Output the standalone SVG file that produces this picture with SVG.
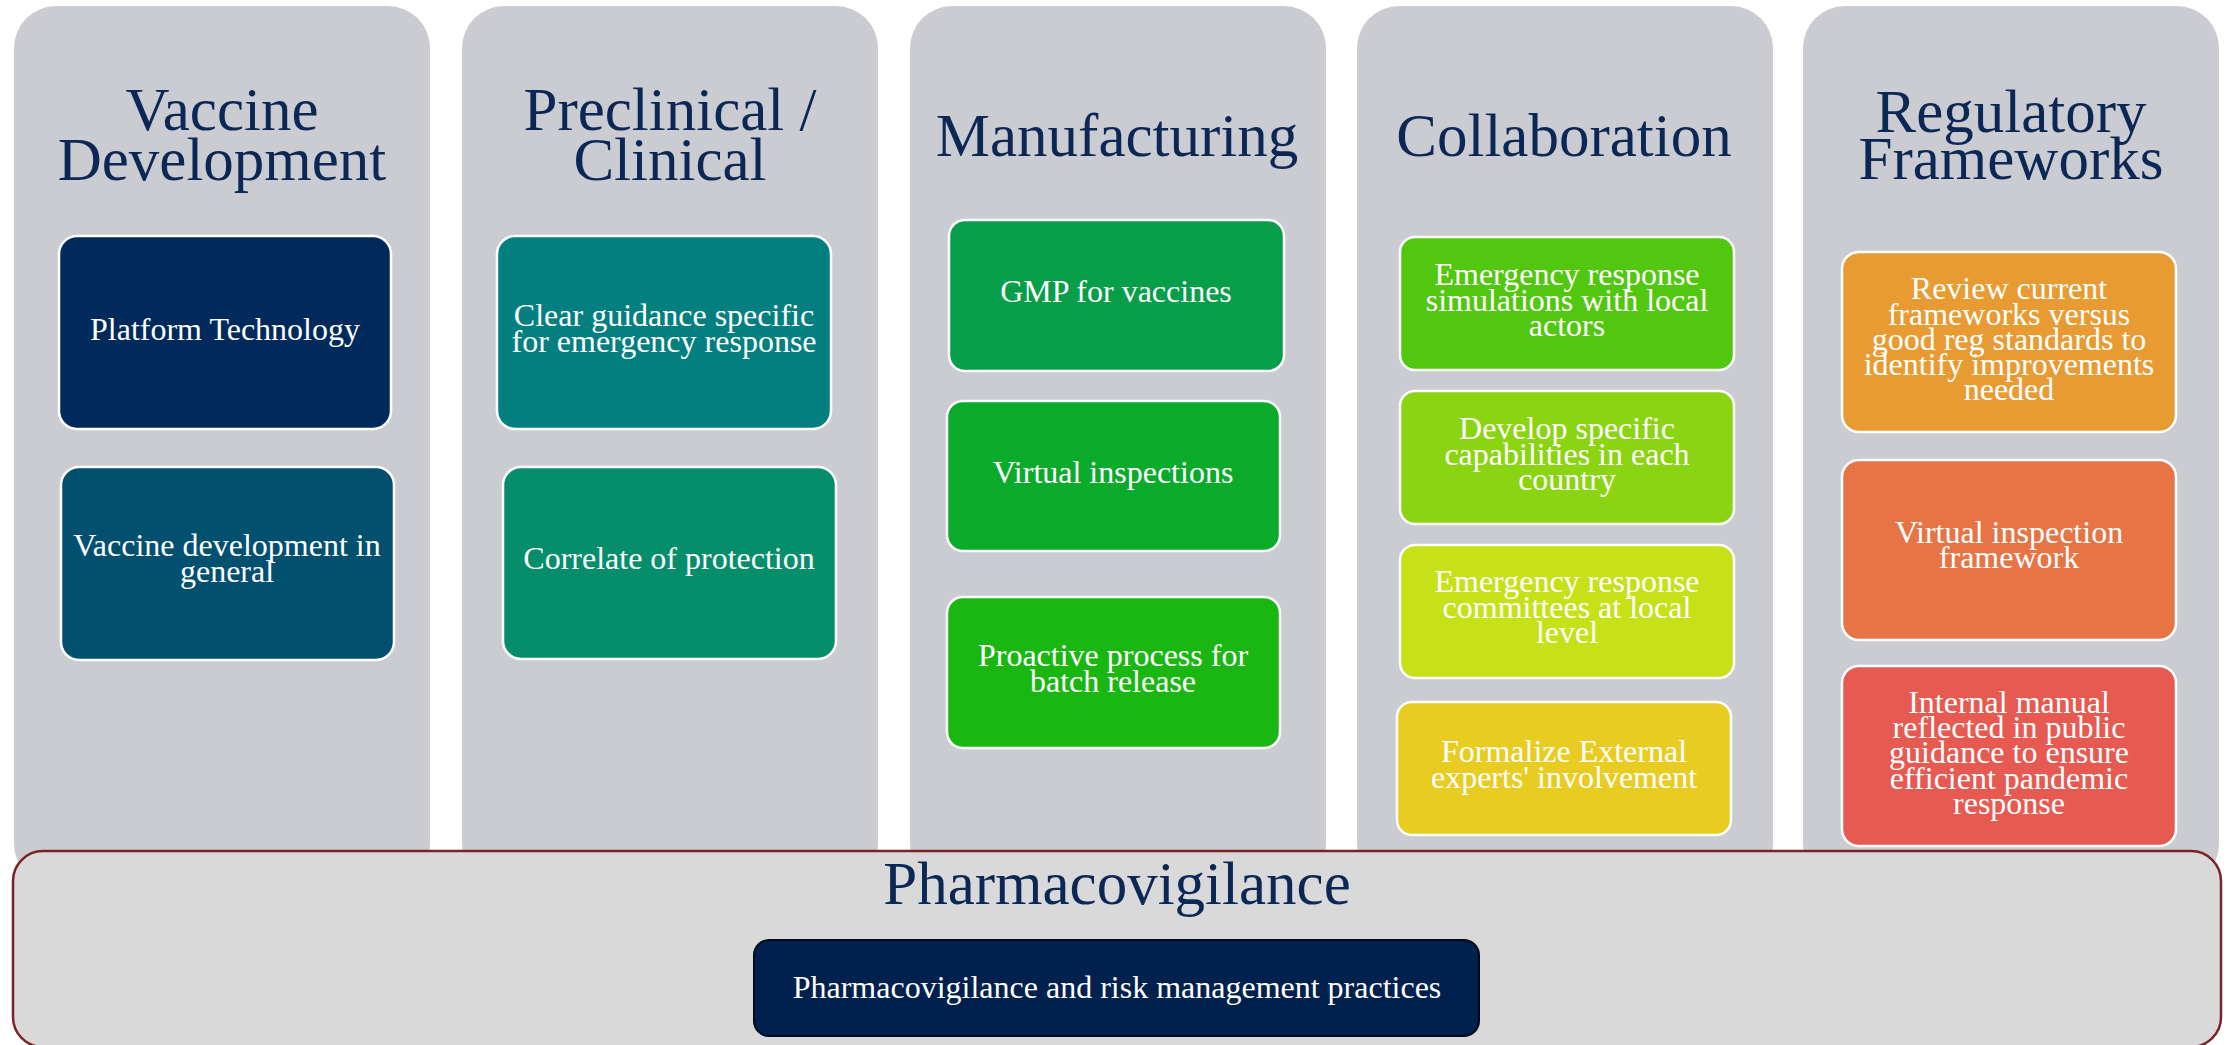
<svg xmlns="http://www.w3.org/2000/svg" width="2233" height="1045" viewBox="0 0 2233 1045">
<style>
.col{fill:#CBCCD1;}
.hd{font-family:"Liberation Serif","Times New Roman",serif;font-size:61px;fill:#0B2756;text-anchor:middle;}
.bx{stroke:#FFFFFF;stroke-width:2.5;}
.bt{font-family:"Liberation Serif","Times New Roman",serif;font-size:32px;fill:#FFFFFF;text-anchor:middle;}
</style>
<rect width="2233" height="1045" fill="#FFFFFF"/>
<g id="columns">
<rect class="col" x="14" y="6" width="416" height="880" rx="42"/>
<rect class="col" x="462" y="6" width="416" height="880" rx="42"/>
<rect class="col" x="910" y="6" width="416" height="880" rx="42"/>
<rect class="col" x="1357" y="6" width="416" height="880" rx="42"/>
<rect class="col" x="1803" y="6" width="416" height="880" rx="42"/>
</g>
<g id="col-vaccine-development">
<text class="hd" x="222" y="130">Vaccine</text>
<text class="hd" x="222" y="180">Development</text>
</g>
<g id="col-preclinical">
<text class="hd" x="670" y="130">Preclinical /</text>
<text class="hd" x="670" y="180">Clinical</text>
</g>
<g id="col-manufacturing">
<text class="hd" x="1117" y="156">Manufacturing</text>
</g>
<g id="col-collaboration">
<text class="hd" x="1564" y="156">Collaboration</text>
</g>
<g id="col-regulatory">
<text class="hd" x="2011" y="132">Regulatory</text>
<text class="hd" x="2011" y="179">Frameworks</text>
</g>
<g id="n-platform">
<rect class="bx" x="59" y="236" width="332" height="193" rx="18" fill="#002A5C"/>
<text class="bt" x="225" y="340">Platform Technology</text>
</g>
<g id="n-vaccine-general">
<rect class="bx" x="61" y="467" width="333" height="193" rx="18" fill="#02506F"/>
<text class="bt" x="227" y="556">Vaccine development in</text>
<text class="bt" x="227" y="582">general</text>
</g>
<g id="n-clear-guidance">
<rect class="bx" x="497" y="236" width="334" height="193" rx="18" fill="#037F7F"/>
<text class="bt" x="664" y="326">Clear guidance specific</text>
<text class="bt" x="664" y="352">for emergency response</text>
</g>
<g id="n-correlate">
<rect class="bx" x="503" y="467" width="333" height="192" rx="18" fill="#068E6B"/>
<text class="bt" x="669" y="569">Correlate of protection</text>
</g>
<g id="n-gmp">
<rect class="bx" x="949" y="220" width="335" height="151" rx="16" fill="#079E4A"/>
<text class="bt" x="1116" y="302">GMP for vaccines</text>
</g>
<g id="n-virtual-inspections">
<rect class="bx" x="947" y="401" width="333" height="150" rx="16" fill="#0AAA2B"/>
<text class="bt" x="1113" y="483">Virtual inspections</text>
</g>
<g id="n-proactive">
<rect class="bx" x="947" y="597" width="333" height="151" rx="16" fill="#1AB713"/>
<text class="bt" x="1113" y="666">Proactive process for</text>
<text class="bt" x="1113" y="692">batch release</text>
</g>
<g id="n-emergency-sim">
<rect class="bx" x="1400" y="237" width="334" height="133" rx="15" fill="#52C70F"/>
<text class="bt" x="1567" y="285">Emergency response</text>
<text class="bt" x="1567" y="311">simulations with local</text>
<text class="bt" x="1567" y="336">actors</text>
</g>
<g id="n-develop">
<rect class="bx" x="1400" y="391" width="334" height="133" rx="15" fill="#8AD412"/>
<text class="bt" x="1567" y="439">Develop specific</text>
<text class="bt" x="1567" y="465">capabilities in each</text>
<text class="bt" x="1567" y="490">country</text>
</g>
<g id="n-committees">
<rect class="bx" x="1400" y="545" width="334" height="133" rx="15" fill="#C6E118"/>
<text class="bt" x="1567" y="592">Emergency response</text>
<text class="bt" x="1567" y="618">committees at local</text>
<text class="bt" x="1567" y="643">level</text>
</g>
<g id="n-formalize">
<rect class="bx" x="1397" y="702" width="334" height="133" rx="15" fill="#E8CC21"/>
<text class="bt" x="1564" y="762">Formalize External</text>
<text class="bt" x="1564" y="788">experts' involvement</text>
</g>
<g id="n-review">
<rect class="bx" x="1842" y="252" width="334" height="180" rx="17" fill="#E79B32"/>
<text class="bt" x="2009" y="299">Review current</text>
<text class="bt" x="2009" y="325">frameworks versus</text>
<text class="bt" x="2009" y="350">good reg standards to</text>
<text class="bt" x="2009" y="375">identify improvements</text>
<text class="bt" x="2009" y="400">needed</text>
</g>
<g id="n-virtual-framework">
<rect class="bx" x="1842" y="460" width="334" height="180" rx="17" fill="#E77444"/>
<text class="bt" x="2009" y="543">Virtual inspection</text>
<text class="bt" x="2009" y="568">framework</text>
</g>
<g id="n-internal-manual">
<rect class="bx" x="1842" y="666" width="334" height="180" rx="17" fill="#E65A52"/>
<text class="bt" x="2009" y="713">Internal manual</text>
<text class="bt" x="2009" y="738">reflected in public</text>
<text class="bt" x="2009" y="763">guidance to ensure</text>
<text class="bt" x="2009" y="789">efficient pandemic</text>
<text class="bt" x="2009" y="814">response</text>
</g>
<g id="pharmacovigilance">
<rect x="13" y="851" width="2208" height="196" rx="30" fill="#D9D9D9" stroke="#7A2525" stroke-width="2.5"/>
<text class="hd" x="1117" y="904">Pharmacovigilance</text>
</g>
<g id="n-pv-practices">
<rect x="754" y="940" width="725" height="96" rx="15" fill="#00214D" stroke="#000B1A" stroke-width="2"/>
<text class="bt" x="1117" y="998" font-size="33">Pharmacovigilance and risk management practices</text>
</g>
<g id="connectors"/>
</svg>
